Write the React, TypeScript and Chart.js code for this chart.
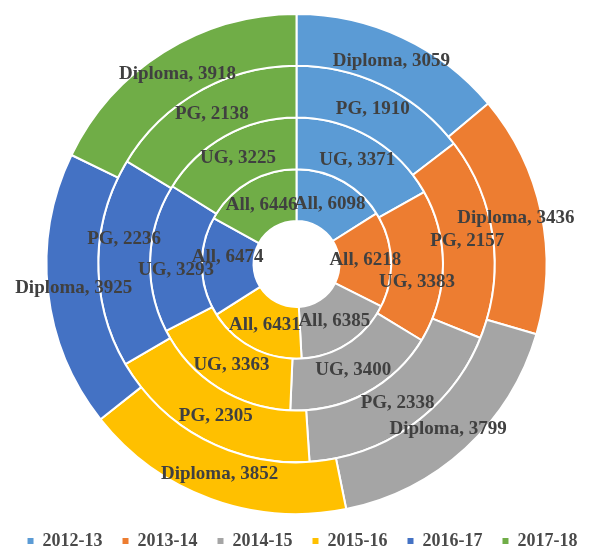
import { useEffect, useRef } from "react";
import { Chart, registerables } from "chart.js";

Chart.register(...registerables);

const years = ["2012-13", "2013-14", "2014-15", "2015-16", "2016-17", "2017-18"];
const ringNames = ["Diploma", "PG", "UG", "All"];
const diplomaValues = [3059, 3436, 3799, 3852, 3925, 3918];
const pgValues = [1910, 2157, 2338, 2305, 2236, 2138];
const ugValues = [3371, 3383, 3400, 3363, 3293, 3225];
const allValues = [6098, 6218, 6385, 6431, 6474, 6446];
const yearColors = ["#5B9BD5", "#ED7D31", "#A5A5A5", "#FFC000", "#4472C4", "#70AD47"];

const FONT = "'Liberation Serif', 'Times New Roman', serif";

// label collision nudges (vertical, px), as the original renderer moved a few crowded labels
const labelNudge: Record<string, number> = {
  "PG|2016-17": -24,
  "UG|2016-17": 11,
  "All|2016-17": -9,
  "UG|2013-14": 16,
};

const ringLabelPlugin = {
  id: "ringLabels",
  afterDatasetsDraw(chart: any) {
    const ctx = chart.ctx;
    ctx.save();
    ctx.font = `bold 19px ${FONT}`;
    ctx.fillStyle = "#404040";
    ctx.textAlign = "center";
    ctx.textBaseline = "middle";
    chart.data.datasets.forEach((ds: any, di: number) => {
      const meta = chart.getDatasetMeta(di);
      meta.data.forEach((arc: any, i: number) => {
        const p = arc.tooltipPosition(false);
        const dy = labelNudge[`${ds.label}|${chart.data.labels[i]}`] || 0;
        ctx.fillText(`${ds.label}, ${ds.data[i]}`, p.x, p.y + dy);
      });
    });
    ctx.restore();
  },
};

const legendShiftPlugin = {
  id: "legendShift",
  afterLayout(chart: any) {
    if (chart.legend) {
      chart.legend.top += 6;
      chart.legend.bottom += 6;
      chart.legend.left += 6;
      chart.legend.right += 6;
    }
  },
};

export default function App() {
  const canvasRef = useRef<HTMLCanvasElement | null>(null);

  useEffect(() => {
    if (!canvasRef.current) return;
    const ringData = [diplomaValues, pgValues, ugValues, allValues];
    const chart = new Chart(canvasRef.current, {
      type: "doughnut",
      data: {
        labels: years,
        datasets: ringData.map((vals, idx) => ({
          label: ringNames[idx],
          data: vals,
          backgroundColor: yearColors,
          borderColor: "#FFFFFF",
          borderWidth: 2,
          clip: false,
        })),
      },
      options: {
        responsive: true,
        maintainAspectRatio: false,
        animation: false,
        radius: 250,
        cutout: "17.2%",
        layout: { padding: { top: 22, bottom: 0, left: 0, right: 0 } },
        plugins: {
          tooltip: { enabled: false },
          legend: {
            position: "bottom",
            labels: {
              boxWidth: 6,
              boxHeight: 6,
              padding: 20,
              color: "#4a4a4a",
              font: { family: FONT, size: 18, weight: "bold" },
              generateLabels: (ch: any) =>
                ch.data.labels.map((lab: string, i: number) => ({
                  text: lab,
                  fillStyle: yearColors[i],
                  strokeStyle: yearColors[i],
                  lineWidth: 0,
                  fontColor: "#4a4a4a",
                  hidden: false,
                  index: i,
                })),
            },
          },
        },
      } as any,
      plugins: [ringLabelPlugin, legendShiftPlugin],
    });
    return () => chart.destroy();
  }, []);

  return (
    <div style={{ position: "fixed", left: 0, top: 0, width: 593, height: 554, background: "#fff" }}>
      <canvas ref={canvasRef} />
    </div>
  );
}
